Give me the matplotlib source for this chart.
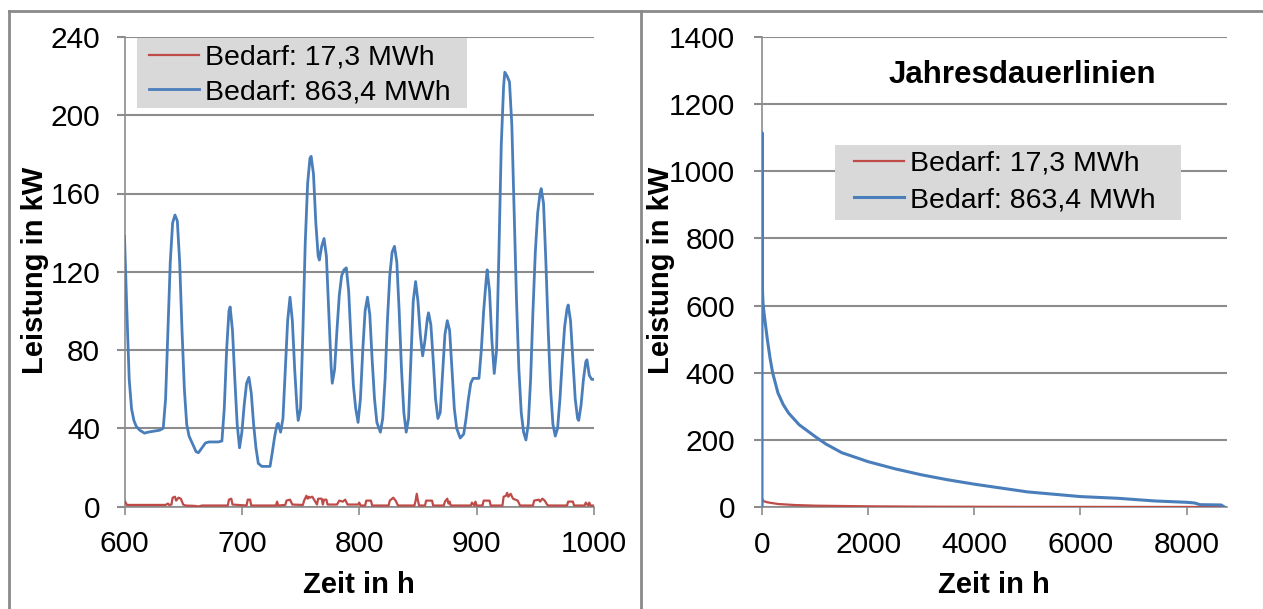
import matplotlib.pyplot as plt
from matplotlib.patches import Rectangle
from matplotlib.lines import Line2D

# Farben wie im Excel-Diagramm
ROT = '#BE4B48'
BLAU = '#4A7EBB'
GRAU = '#8C8C8C'

# Lastgang Stunde 600 bis 1000, Bedarf 863,4 MWh
stunden_blau = [600, 602, 604, 606, 608, 610, 613, 617, 620, 625, 630, 633, 635, 637, 639, 641, 643, 645, 647, 649,
                651, 653, 655, 658, 661, 663, 666, 669, 672, 676, 680, 683, 685, 687, 689, 690, 692, 694, 696, 698,
                700, 702, 704, 706, 708, 710, 712, 714, 717, 720, 724, 726, 728, 730, 731, 733, 735, 737, 739, 741,
                743, 745, 747, 748, 750, 752, 754, 756, 758, 759, 761, 763, 765, 766, 768, 770, 772, 774, 776, 777,
                779, 781, 783, 785, 787, 789, 791, 793, 795, 797, 799, 801, 803, 805, 807, 809, 811, 813, 815, 818,
                820, 822, 824, 826, 828, 830, 832, 834, 836, 838, 840, 842, 844, 846, 848, 850, 852, 854, 856, 858,
                859, 861, 863, 865, 867, 869, 871, 873, 875, 877, 879, 881, 883, 886, 889, 891, 893, 895, 897, 902,
                904, 906, 908, 909, 911, 913, 915, 917, 919, 921, 923, 924, 926, 928, 930, 932, 934, 936, 938, 940,
                942, 944, 946, 948, 950, 952, 954, 955, 957, 959, 961, 963, 965, 967, 969, 971, 973, 975, 977, 978,
                980, 982, 984, 986, 987, 989, 991, 993, 994, 996, 998, 1000]
leistung_blau = [138, 100, 65, 50, 44, 41, 39, 37.5, 38, 38.5, 39, 40, 55, 90, 125, 145, 149, 146, 125, 90,
                 60, 42, 36, 32, 28, 27.5, 30, 32.5, 33, 33, 33, 33.5, 50, 80, 100, 102, 90, 65, 42, 30,
                 38, 52, 63, 66, 58, 42, 30, 22, 20.5, 20.5, 20.5, 28, 36, 42, 42.5, 38, 45, 70, 95, 107,
                 95, 70, 50, 44, 50, 90, 135, 165, 178, 179, 170, 145, 128, 126, 133, 137, 128, 100, 72, 63,
                 70, 90, 108, 118, 121, 122, 110, 85, 62, 50, 43, 55, 80, 100, 107, 98, 75, 55, 43, 38,
                 45, 65, 95, 118, 130, 133, 125, 100, 70, 48, 38, 45, 75, 105, 115, 105, 88, 77, 85, 96,
                 99, 93, 75, 55, 45, 48, 68, 88, 95, 90, 70, 50, 40, 35, 37, 45, 55, 63, 65.5, 65.5,
                 80, 100, 115, 121, 110, 85, 68, 80, 130, 185, 215, 222, 220, 217, 195, 150, 105, 70, 48, 38,
                 34, 42, 65, 100, 130, 150, 160, 162.5, 155, 125, 90, 60, 42, 36, 40, 55, 75, 92, 101, 103,
                 95, 75, 55, 45, 44, 52, 65, 74, 75, 67, 65, 65]

# Lastgang Stunde 600 bis 1000, Bedarf 17,3 MWh
stunden_rot = [600, 601, 602, 635, 637, 638, 640, 641, 643, 644, 646, 648, 650, 652, 660, 663, 666, 688, 689, 691,
               692, 704, 705, 707, 708, 729, 730, 731, 737, 738, 741, 743, 752, 753, 755, 756, 757, 758, 760, 762,
               764, 765, 768, 769, 770, 772, 773, 781, 783, 786, 788, 790, 799, 800, 801, 805, 806, 810, 811, 825,
               826, 829, 831, 833, 847, 848, 849, 850, 851, 856, 857, 862, 863, 872, 873, 875, 876, 877, 878, 895,
               896, 898, 899, 900, 905, 906, 911, 912, 922, 923, 925, 926, 927, 929, 931, 933, 935, 937, 948, 949,
               953, 954, 956, 958, 960, 961, 977, 978, 982, 983, 992, 993, 995, 996, 997, 1000]
leistung_rot = [3, 2, 0.8, 0.8, 1.5, 0.8, 1, 4.5, 5, 3, 4.5, 4, 1, 0.5, 0.3, 0, 0.5, 0.5, 3.5, 4,
                1, 0.5, 3.5, 3.5, 0.5, 0.5, 2.5, 0.5, 0.8, 3, 3.5, 1, 0.8, 3, 5.5, 4, 5, 4.5, 5, 3,
                1, 4, 4, 1, 3.5, 3.5, 1, 1, 3, 2.5, 3.5, 1, 1, 2, 0.5, 0.5, 3, 3, 0.5, 0.5,
                3, 4.5, 3, 0.5, 0.5, 3, 6.5, 3, 0.5, 0.5, 3, 3, 0.5, 0.5, 2.5, 4, 1.5, 2.5, 0.5, 0.5,
                2, 0.5, 2.5, 0.5, 0.5, 3, 3, 0.5, 0.5, 5, 5.5, 7, 5, 6.5, 4, 3.5, 3, 0.5, 0.5, 3,
                3.5, 2.5, 4, 3, 1, 0.5, 0.5, 2.5, 2.5, 0.5, 0.5, 2, 0.5, 2, 0.5, 0.5]

# Jahresdauerlinien
dauer_blau_h = [0, 1, 4, 10, 20, 40, 60, 100, 150, 200, 300, 400, 500, 700, 1000, 1200, 1500, 2000, 2500, 3000,
                3500, 4000, 5000, 6000, 6700, 7400, 8000, 8150, 8250, 8650, 8700]
dauer_blau_kw = [0, 1115, 700, 640, 605, 575, 550, 500, 445, 400, 340, 305, 280, 245, 210, 188, 162, 135, 114, 96,
                 81, 68, 45, 31, 26, 18, 14, 12, 7, 6, 1]
dauer_rot_h = [0, 1, 20, 100, 300, 600, 1000, 2000, 3000, 5000, 8700]
dauer_rot_kw = [0, 25, 18, 14, 9, 6, 4, 2, 1, 0.3, 0]

legende_texte = ['Bedarf: 17,3 MWh', 'Bedarf: 863,4 MWh']

W, H = 1263, 609  # Bildgröße in Pixel
fig = plt.figure(figsize=(W / 100, H / 100), dpi=100)
plt.rcParams['font.family'] = ['Liberation Sans', 'DejaVu Sans']


def px(x, y):  # Pixel (von oben links) in Figure-Koordinaten
    return x / W, 1 - y / H


def achse_stylen(ax, ypad):  # gemeinsames Aussehen beider Diagramme
    for s in ['top', 'right']:
        ax.spines[s].set_visible(False)
    for s in ['left', 'bottom']:
        ax.spines[s].set_color(GRAU)
        ax.spines[s].set_linewidth(1.2)
    ax.grid(axis='y', color=GRAU, linewidth=1.5)
    ax.set_axisbelow(True)
    ax.tick_params(axis='x', direction='out', length=6, width=1.2, color=GRAU, labelsize=21.5, pad=11)
    ax.tick_params(axis='y', direction='out', length=6, width=1.5, color=GRAU, labelsize=21.5, pad=ypad)


# linkes Diagramm
ax1 = fig.add_axes([124.5 / W, 1 - 506.5 / H, 469.5 / W, 469.5 / H])
ax1.plot(stunden_rot, leistung_rot, color=ROT, lw=1.6, label=legende_texte[0], zorder=3)
ax1.plot(stunden_blau, leistung_blau, color=BLAU, lw=2.0, label=legende_texte[1], zorder=3)
ax1.set_xlim(600, 1000)
ax1.set_ylim(0, 240)
ax1.set_xticks(range(600, 1001, 100))
ax1.set_yticks(range(0, 241, 40))
achse_stylen(ax1, 11.5)

# rechtes Diagramm
ax2 = fig.add_axes([762 / W, 1 - 507 / H, 465 / W, 470 / H])
ax2.plot(dauer_rot_h, dauer_rot_kw, color=ROT, lw=1.6, label=legende_texte[0], zorder=3)
ax2.plot(dauer_blau_h, dauer_blau_kw, color=BLAU, lw=2.2, label=legende_texte[1], zorder=3)
ax2.set_xlim(0, 8760)
ax2.set_ylim(0, 1400)
ax2.set_xticks(range(0, 8001, 2000))
ax2.set_yticks(range(0, 1401, 200))
achse_stylen(ax2, 13.5)

# graue Legendenkästen
for ax, (x0, y0, x1, y1) in [(ax1, (137, 38, 467, 108)), (ax2, (835, 145, 1181, 220))]:
    ax.add_patch(Rectangle(px(x0, y1), (x1 - x0) / W, (y1 - y0) / H, transform=fig.transFigure,
                           facecolor='#D9D9D9', edgecolor='none', zorder=4, clip_on=False))

for ax, hx, ty, ls in [(ax1, 149, 45, 0.29), (ax2, 854, 151, 0.36)]:
    ax.legend(loc='upper left', bbox_to_anchor=px(hx, ty), bbox_transform=fig.transFigure,
              frameon=False, fontsize=20.5, handlelength=1.75, handletextpad=0.22,
              labelspacing=ls, borderpad=0, borderaxespad=0)

# Achsenbeschriftungen
fig.text(*px(359, 593), 'Zeit in h', fontsize=21, fontweight='bold', ha='center', va='baseline')
fig.text(*px(994, 593), 'Zeit in h', fontsize=21, fontweight='bold', ha='center', va='baseline')
fig.text(*px(35, 270), 'Leistung in kW', fontsize=21, fontweight='bold', rotation=90, ha='center', va='center')
fig.text(*px(661, 270), 'Leistung in kW', fontsize=21, fontweight='bold', rotation=90, ha='center', va='center')
fig.text(*px(1022, 83), 'Jahresdauerlinien', fontsize=22.5, fontweight='bold', ha='center', va='baseline')

# Rahmen und Trennlinie
for xs, ys in [([9, W], [11, 11]), ([9, 9], [11, H]), ([641, 641], [11, H])]:
    fig.add_artist(Line2D([x / W for x in xs], [1 - y / H for y in ys], color='#8A8A8A', lw=2))

fig.savefig('out.png', dpi=100)
